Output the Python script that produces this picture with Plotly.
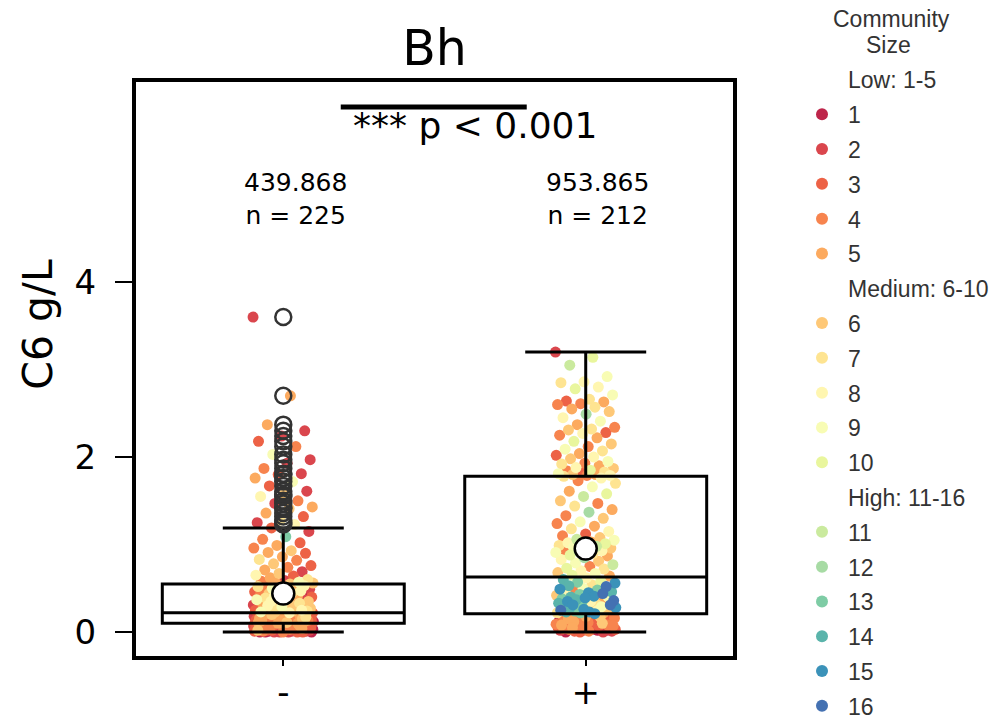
import plotly.graph_objects as go
import plotly.express as px
from plotly.colors import sample_colorscale

# ---- data -------------------------------------------------------------
categories = ["-", "+"]
mean_mg_per_l = [439.868, 953.865]
p_text = "*** p < 0.001"
y_label = "C6 g/L"
legend_title = ["Community", "Size"]

# box statistics (g/L)
box_q1 = [0.10, 0.21]
box_median = [0.22, 0.63]
box_q3 = [0.55, 1.78]
whisker_lo = [0.00, 0.00]
whisker_hi = [1.19, 3.20]

# C6 concentration (g/L) and community size per culture, "-" condition
minus_c6 = [
    3.60, 2.70, 2.37, 2.30, 2.24, 2.18, 2.12, 2.03, 1.97, 1.93,
    1.87, 1.81, 1.80, 1.76, 1.72, 1.67, 1.61, 1.57, 1.55, 1.50,
    1.47, 1.43, 1.41, 1.36, 1.32, 1.28, 1.25, 1.23,
    1.19, 1.15, 1.09, 1.06, 1.02, 0.99, 0.96, 0.93, 0.91, 0.90,
    0.86, 0.83, 0.82, 0.78, 0.76, 0.74, 0.71, 0.69, 0.67, 0.65,
    0.64, 0.62, 0.60, 0.59, 0.58, 0.57, 0.56, 0.56,
    0.55, 0.54, 0.53, 0.53, 0.52, 0.51, 0.50, 0.49, 0.49, 0.48,
    0.47, 0.46, 0.46, 0.45, 0.44, 0.44, 0.43, 0.42, 0.41, 0.41,
    0.40, 0.39, 0.39, 0.38, 0.37, 0.37, 0.36, 0.35, 0.35, 0.34,
    0.33, 0.33, 0.32, 0.31, 0.31, 0.30, 0.30, 0.29, 0.28, 0.28,
    0.27, 0.27, 0.26, 0.26, 0.25, 0.25, 0.25, 0.24, 0.24, 0.24,
    0.23, 0.23, 0.23, 0.23, 0.22, 0.22,
    0.21, 0.21, 0.21, 0.20, 0.20, 0.20, 0.19, 0.19, 0.19, 0.18,
    0.18, 0.18, 0.17, 0.17, 0.17, 0.17, 0.16, 0.16, 0.16, 0.15,
    0.15, 0.15, 0.15, 0.14, 0.14, 0.14, 0.14, 0.13, 0.13, 0.13,
    0.13, 0.12, 0.12, 0.12, 0.12, 0.12, 0.11, 0.11, 0.11, 0.11,
    0.11, 0.11, 0.11, 0.10, 0.10, 0.10, 0.10, 0.10, 0.10, 0.10,
    0.10, 0.10, 0.10, 0.10, 0.10, 0.10,
    0.10, 0.09, 0.09, 0.09, 0.08, 0.08, 0.08, 0.07, 0.07, 0.07,
    0.07, 0.06, 0.06, 0.06, 0.06, 0.05, 0.05, 0.05, 0.05, 0.05,
    0.04, 0.04, 0.04, 0.04, 0.04, 0.04, 0.03, 0.03, 0.03, 0.03,
    0.03, 0.03, 0.03, 0.02, 0.02, 0.02, 0.02, 0.02, 0.02, 0.02,
    0.01, 0.01, 0.01, 0.01, 0.01, 0.01, 0.01, 0.01, 0.00, 0.00,
    0.00, 0.00, 0.00, 0.00, 0.00, 0.00, 0.00,
]
minus_size = [
    2, 5, 5, 2, 2, 3, 4, 9, 2, 2,
    4, 2, 3, 5, 9, 3, 2, 6, 8, 4,
    2, 5, 6, 5, 3, 7, 2, 8,
    3, 2, 13, 4, 3, 5, 4, 6, 5, 3,
    5, 7, 4, 6, 3, 4, 5, 2, 6, 8,
    3, 5, 7, 2, 4, 9, 5, 6,
    6, 4, 8, 3, 7, 5, 9, 2, 6, 4,
    8, 5, 3, 7, 6, 1, 9, 4, 5, 8,
    3, 6, 7, 2, 5, 9, 4, 8, 6, 3,
    5, 7, 4, 2, 6, 8, 5, 9, 3, 4,
    7, 6, 2, 5, 8, 4, 3, 6, 1, 7,
    5, 9, 4, 6, 3, 8,
    5, 3, 4, 2, 4, 6, 3, 5, 1, 5,
    4, 2, 3, 3, 7, 4, 5, 2, 4, 3,
    4, 1, 6, 5, 3, 2, 4, 4, 3, 5,
    2, 3, 1, 4, 3, 5, 2, 5, 4, 3,
    1, 6, 2, 4, 5, 3, 2, 4, 1, 4,
    3, 5, 2, 3, 1, 3,
    2, 1, 3, 2, 4, 1, 2, 3, 5, 1,
    2, 4, 1, 3, 2, 1, 4, 2, 3, 1,
    2, 5, 1, 3, 2, 4, 1, 2, 3, 1,
    2, 1, 4, 3, 1, 2, 6, 1, 3, 2,
    1, 4, 2, 1, 3, 2, 1, 2, 4, 1,
    3, 2, 1, 2, 1, 3, 2,
]

# "+" condition
plus_c6 = [
    3.20, 3.14, 3.05, 2.92, 2.86, 2.85, 2.80, 2.78, 2.71, 2.66,
    2.64, 2.63, 2.61, 2.60, 2.57, 2.55, 2.52, 2.49, 2.45, 2.41,
    2.37, 2.34, 2.32, 2.31, 2.28, 2.27, 2.25, 2.22, 2.18, 2.15,
    2.12, 2.09, 2.07, 2.04, 2.02, 2.00, 1.98, 1.95, 1.93, 1.92,
    1.90, 1.88, 1.87, 1.85, 1.84, 1.83, 1.82, 1.81, 1.80, 1.80,
    1.79, 1.79, 1.78,
    1.76, 1.73, 1.70, 1.66, 1.61, 1.58, 1.55, 1.50, 1.47, 1.44,
    1.40, 1.37, 1.33, 1.30, 1.26, 1.24, 1.21, 1.18, 1.15, 1.12,
    1.10, 1.08, 1.06, 1.05, 1.03, 1.02, 1.01, 1.00, 0.99, 0.98,
    0.97, 0.96, 0.95, 0.94, 0.93, 0.92, 0.91, 0.90, 0.88, 0.87,
    0.85, 0.83, 0.81, 0.79, 0.77, 0.75, 0.73, 0.72, 0.70, 0.68,
    0.67, 0.65, 0.64,
    0.62, 0.60, 0.58, 0.57, 0.56, 0.54, 0.53, 0.52, 0.50, 0.49,
    0.48, 0.47, 0.46, 0.45, 0.45, 0.44, 0.43, 0.42, 0.41, 0.40,
    0.40, 0.39, 0.38, 0.37, 0.37, 0.36, 0.35, 0.35, 0.34, 0.33,
    0.33, 0.32, 0.31, 0.31, 0.30, 0.30, 0.29, 0.28, 0.28, 0.27,
    0.27, 0.26, 0.26, 0.25, 0.25, 0.24, 0.24, 0.23, 0.23, 0.22,
    0.22, 0.22, 0.21,
    0.20, 0.19, 0.18, 0.18, 0.17, 0.16, 0.16, 0.15, 0.15, 0.14,
    0.14, 0.13, 0.13, 0.12, 0.12, 0.11, 0.11, 0.10, 0.10, 0.09,
    0.09, 0.09, 0.08, 0.08, 0.08, 0.07, 0.07, 0.07, 0.06, 0.06,
    0.06, 0.05, 0.05, 0.05, 0.05, 0.04, 0.04, 0.04, 0.04, 0.03,
    0.03, 0.03, 0.03, 0.02, 0.02, 0.02, 0.02, 0.01, 0.01, 0.01,
    0.00, 0.00, 0.00,
]
plus_size = [
    2, 10, 11, 9, 8, 7, 8, 10, 9, 7,
    3, 5, 4, 4, 7, 5, 6, 12, 8, 9,
    5, 4, 7, 6, 3, 8, 4, 5, 10, 6,
    4, 9, 7, 5, 3, 8, 6, 9, 4, 7,
    5, 8, 6, 10, 4, 7, 3, 9, 5, 6,
    8, 4, 7,
    8, 4, 7, 9, 5, 10, 11, 6, 4, 7,
    5, 12, 4, 6, 9, 4, 5, 7, 8, 3,
    4, 6, 11, 9, 5, 8, 10, 12, 7, 11,
    9, 6, 10, 4, 8, 11, 9, 7, 10, 5,
    12, 8, 6, 9, 11, 4, 10, 7, 8, 6,
    9, 10, 5,
    8, 14, 10, 13, 15, 7, 14, 16, 9, 15,
    13, 4, 14, 15, 8, 16, 13, 6, 15, 14,
    9, 15, 13, 5, 14, 16, 8, 15, 4, 13,
    14, 7, 15, 16, 5, 14, 9, 13, 15, 3,
    14, 6, 15, 16, 8, 13, 4, 15, 14, 5,
    13, 7, 15,
    4, 3, 5, 4, 6, 3, 4, 2, 5, 3,
    4, 1, 3, 5, 2, 4, 3, 6, 2, 4,
    3, 1, 4, 2, 5, 3, 2, 4, 1, 3,
    2, 4, 3, 1, 5, 2, 3, 4, 2, 1,
    3, 2, 4, 1, 3, 2, 1, 3, 2, 4,
    1, 2, 3,
]

size_bands = [("Low: 1-5", 1, 5), ("Medium: 6-10", 6, 10), ("High: 11-16", 11, 16)]

# ---- styling ----------------------------------------------------------
palette = sample_colorscale(px.colors.diverging.Spectral,
                            [(k + 1) / 17 for k in range(16)])
FONT = "DejaVu Sans"
LEG_FONT = "Liberation Sans"
LEG_COLOR = "#333333"
W, H = 993, 721
M_L, M_R, M_T, M_B = 135.5, 259.5, 82, 65
X_RANGE = [-0.487, 1.487]
Y_RANGE = [-0.274, 6.286]
PLOT_W, PLOT_H = W - M_L - M_R, H - M_T - M_B


def paper_x(px_x):
    return (px_x - M_L) / PLOT_W


def paper_y(px_y):
    return (H - M_B - px_y) / PLOT_H


groups = [(0, minus_c6, minus_size), (1, plus_c6, plus_size)]


def jitter(i):
    # low-discrepancy spread of the strip points within +-0.1 of the category
    return ((i * 0.6180339887) % 1.0 - 0.5) * 0.2


fig = go.Figure()

# strip points, one trace per community size (legend entries)
for band_label, lo, hi in size_bands:
    fig.add_trace(go.Scatter(
        x=[None], y=[None], mode="markers", name=band_label,
        legendgroup=band_label, hoverinfo="skip",
        marker=dict(color="rgba(0,0,0,0)", size=12)))
    for s in range(lo, hi + 1):
        xs, ys = [], []
        for pos, vals, sizes in groups:
            for i, (v, sz) in enumerate(zip(vals, sizes)):
                if sz == s:
                    xs.append(pos + jitter(i))
                    ys.append(v)
        fig.add_trace(go.Scatter(
            x=xs, y=ys, mode="markers", name=str(s), legendgroup=str(s),
            marker=dict(color=palette[s - 1], size=11, line=dict(width=0))))

# boxes, fliers and means on an overlaid axis pair so they sit above the points
fig.add_trace(go.Box(
    x=[0, 1], q1=box_q1, median=box_median, q3=box_q3,
    lowerfence=whisker_lo, upperfence=whisker_hi,
    orientation="v", width=0.8, whiskerwidth=0.5, boxpoints=False,
    line=dict(color="black", width=3), fillcolor="rgba(0,0,0,0)",
    xaxis="x2", yaxis="y2", showlegend=False, hoverinfo="skip"))

flier_x, flier_y = [], []
for pos, vals, _ in groups:
    for v in vals:
        if v > whisker_hi[pos] or v < whisker_lo[pos]:
            flier_x.append(pos)
            flier_y.append(v)
fig.add_trace(go.Scatter(
    x=flier_x, y=flier_y, mode="markers", xaxis="x2", yaxis="y2",
    showlegend=False, hoverinfo="skip",
    marker=dict(size=16, color="rgba(0,0,0,0)",
                line=dict(color="#333333", width=2.5))))

means_g = [m / 1000 for m in mean_mg_per_l]
fig.add_trace(go.Scatter(
    x=[0, 1], y=means_g, mode="markers", xaxis="x2", yaxis="y2",
    showlegend=False, hoverinfo="skip",
    marker=dict(size=22, color="white", line=dict(color="black", width=2.5))))

# mean / count labels
for pos, (m, vals) in enumerate(zip(mean_mg_per_l, [minus_c6, plus_c6])):
    fig.add_annotation(x=pos + 0.04, y=4.945,
                       text=f"{m:.3f}<br>n = {len(vals)}", showarrow=False,
                       xanchor="center", yanchor="middle",
                       font=dict(size=25, family=FONT, color="black"))

# significance bar
fig.add_shape(type="line", xref="x", yref="y", x0=0.19, x1=0.805, y0=6.0,
              y1=6.0, line=dict(color="black", width=5))
fig.add_annotation(x=0.634, y=5.79, text=p_text, showarrow=False,
                   xanchor="center", yanchor="middle",
                   font=dict(size=36, family=FONT, color="black"))

# y-axis label
fig.add_annotation(xref="paper", yref="paper", x=paper_x(37), y=paper_y(324),
                   text=y_label, textangle=-90, showarrow=False,
                   xanchor="center", yanchor="middle",
                   font=dict(size=41, family=FONT, color="black"))

# legend heading, two centred lines
for txt, cx, cy in zip(legend_title, [892, 889], [19, 45]):
    fig.add_annotation(xref="paper", yref="paper", x=paper_x(cx),
                       y=paper_y(cy), text=txt, showarrow=False,
                       xanchor="center", yanchor="middle",
                       font=dict(size=23, family=LEG_FONT, color=LEG_COLOR))

axis_common = dict(showline=True, mirror=True, linewidth=4, linecolor="black",
                   showgrid=False, zeroline=False, ticks="outside",
                   tickcolor="black", automargin=False)

fig.update_layout(
    width=W, height=H,
    margin=dict(l=M_L, r=M_R, t=M_T, b=M_B),
    paper_bgcolor="white", plot_bgcolor="white",
    font=dict(family=FONT, color="black"),
    title=dict(text="Bh", x=0.5, xref="paper", xanchor="center",
               y=1 - 48 / H, yref="container", yanchor="middle",
               font=dict(size=49, family=FONT, color="black")),
    xaxis=dict(range=X_RANGE, tickvals=[0, 1], ticktext=categories,
               ticklen=6, tickwidth=1.5, tickfont=dict(size=34),
               ticklabelstandoff=-3, **axis_common),
    yaxis=dict(range=Y_RANGE, tickvals=[0, 2, 4], ticklen=17, tickwidth=2,
               tickfont=dict(size=34), ticklabelstandoff=12, **axis_common),
    xaxis2=dict(range=X_RANGE, overlaying="x", visible=False),
    yaxis2=dict(range=Y_RANGE, overlaying="y", visible=False),
    legend=dict(
        font=dict(size=23, family=LEG_FONT, color=LEG_COLOR),
        traceorder="grouped", tracegroupgap=1.9, itemsizing="constant",
        itemwidth=42,
        xref="container", x=796 / W, xanchor="left",
        yref="container", y=1 - 58 / H, yanchor="top",
        bgcolor="rgba(0,0,0,0)", maxheight=2000),
)

fig.write_html("out.html")
